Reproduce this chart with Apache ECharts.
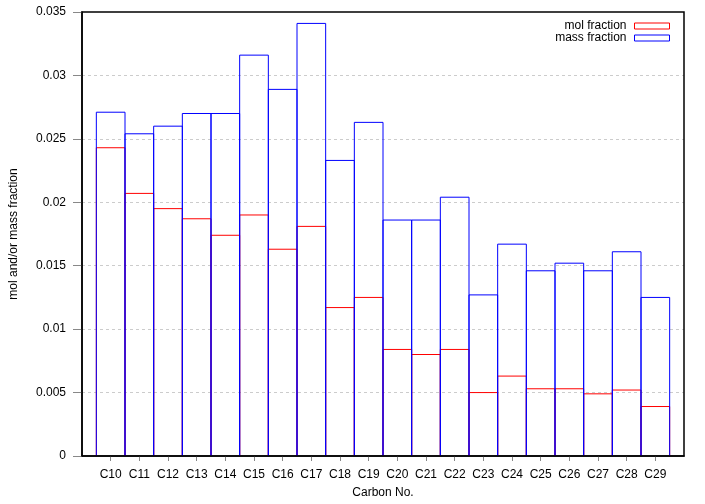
<!DOCTYPE html>
<html>
<head>
<meta charset="utf-8">
<script src="https://cdn.jsdelivr.net/npm/echarts@6/dist/echarts.min.js"></script>
<style>
html,body{margin:0;padding:0;background:#fff;}
#chart{width:705px;height:504px;}
</style>
</head>
<body>
<div id="chart"></div>
<script>
var categories = ['C10','C11','C12','C13','C14','C15','C16','C17','C18','C19','C20','C21','C22','C23','C24','C25','C26','C27','C28','C29'];
var molFraction = [0.0243,0.0207,0.0195,0.0187,0.0174,0.0190,0.0163,0.0181,0.0117,0.0125,0.0084,0.0080,0.0084,0.0050,0.0063,0.0053,0.0053,0.0049,0.0052,0.0039];
var massFraction = [0.0271,0.0254,0.0260,0.0270,0.0270,0.0316,0.0289,0.0341,0.0233,0.0263,0.0186,0.0186,0.0204,0.0127,0.0167,0.0146,0.0152,0.0146,0.0161,0.0125];
var yTickLabels = ['0','0.005','0.01','0.015','0.02','0.025','0.03','0.035'];
var seriesNames = ['mol fraction','mass fraction'];
var seriesColors = ['#ff0000','#0000ff'];

var FONT = '"Liberation Sans", Arial, sans-serif';

function toData(arr){ return arr.map(function(v,i){ return [i, v]; }); }

function renderStep(color){
  return function(params, api){
    var i = api.value(0), v = api.value(1);
    var p0 = api.coord([i - 0.5, 0]);
    var p1 = api.coord([i + 0.5, v]);
    return {
      type: 'polyline',
      shape: { points: [[p0[0], p0[1]], [p0[0], p1[1]], [p1[0], p1[1]], [p1[0], p0[1]]] },
      style: { stroke: color, fill: null, lineWidth: 1 }
    };
  };
}

var idx = categories.map(function(c,i){ return i; });

var chart = echarts.init(document.getElementById('chart'), null, {renderer:'canvas'});
chart.setOption({
  animation: false,
  backgroundColor: '#fff',
  textStyle: { fontFamily: FONT },
  grid: { left: 80, right: 21, top: 12, bottom: 45, show: true, borderColor: '#000', borderWidth: 1.5, backgroundColor: 'transparent', z: 3 },
  legend: {
    orient: 'vertical', right: 35, top: 20, align: 'right', padding: 0,
    itemWidth: 35, itemHeight: 6, itemGap: 0,
    textStyle: { fontFamily: FONT, fontSize: 12, color: '#000', lineHeight: 12, padding: [0, 3, 0, 0] },
    data: seriesNames.map(function(n, k){
      return { name: n, icon: 'rect', itemStyle: { color: '#fff', borderColor: seriesColors[k], borderWidth: 1 } };
    })
  },
  xAxis: {
    type: 'value', min: -1, max: 20, interval: 1,
    name: 'Carbon No.', nameLocation: 'middle', nameGap: 31,
    nameTextStyle: { fontFamily: FONT, fontSize: 12, color: '#000' },
    axisLine: { show: true, onZero: false, lineStyle: { color: '#000', width: 1.5 } },
    axisTick: { show: true, length: 5, customValues: idx, lineStyle: { color: '#888' } },
    axisLabel: { customValues: idx, margin: 13, fontFamily: FONT, fontSize: 12, color: '#000',
      formatter: function(v){ var k = Math.round(v); return categories[k] || ''; } },
    splitLine: { show: false }
  },
  yAxis: {
    type: 'value', min: 0, max: 0.035, interval: 0.005,
    name: 'mol and/or mass fraction', nameLocation: 'middle', nameGap: 62, nameRotate: 90,
    nameTextStyle: { fontFamily: FONT, fontSize: 12, color: '#000' },
    axisLine: { show: true, onZero: false, lineStyle: { color: '#000', width: 1.5 } },
    axisTick: { show: true, length: 9, lineStyle: { color: '#888' } },
    axisLabel: { margin: 16, fontFamily: FONT, fontSize: 12, color: '#000',
      formatter: function(v){ return yTickLabels[Math.round(v / 0.005)]; } },
    splitLine: { show: true, showMinLine: false, showMaxLine: false, lineStyle: { color: '#cccccc', type: [3, 3], width: 1 } }
  },
  series: [
    { name: seriesNames[0], type: 'custom', renderItem: renderStep(seriesColors[0]), data: toData(molFraction), encode: { x: 0, y: 1 }, itemStyle: { color: seriesColors[0] } },
    { name: seriesNames[1], type: 'custom', renderItem: renderStep(seriesColors[1]), data: toData(massFraction), encode: { x: 0, y: 1 }, itemStyle: { color: seriesColors[1] } }
  ]
});
</script>
</body>
</html>
